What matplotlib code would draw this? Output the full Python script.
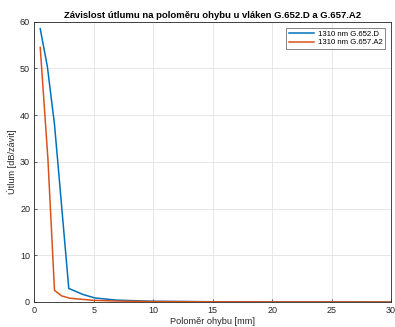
import matplotlib
matplotlib.use("Agg")
import matplotlib.pyplot as plt

plt.rcParams['font.family'] = ['Liberation Sans', 'DejaVu Sans']

x_652 = [0.5, 1.1, 1.7, 2.0, 2.9, 4.1, 5.1, 6.9, 10, 15, 20, 25, 30]
y_652 = [58.5, 50.4, 38.0, 29.3, 2.9, 1.6, 0.86, 0.4, 0.15, 0.05, 0.02, 0.01, 0.0]
x_657 = [0.5, 1.15, 1.7, 2.3, 3.0, 4.1, 5.0, 7.0, 10, 15, 20, 25, 30]
y_657 = [54.5, 30.5, 2.5, 1.3, 0.8, 0.55, 0.35, 0.2, 0.1, 0.04, 0.02, 0.01, 0.0]

labels = ['1310 nm G.652.D', '1310 nm G.657.A2']
title = 'Závislost útlumu na poloměru ohybu u vláken G.652.D a G.657.A2'
xlabel = 'Poloměr ohybu [mm]'
ylabel = 'Útlum [dB/závit]'
xticks = [0, 5, 10, 15, 20, 25, 30]
yticks = [0, 10, 20, 30, 40, 50, 60]

fig = plt.figure(figsize=(3.95, 3.27), dpi=100)
ax = fig.add_axes([0.0868, 0.0765, 0.903, 0.857])
ax.plot(x_652, y_652, color='#0072BD', lw=1.1, label=labels[0])
ax.plot(x_657, y_657, color='#D95319', lw=1.1, label=labels[1])
ax.set_xlim(0, 30)
ax.set_ylim(0, 60)
ax.set_xticks(xticks)
ax.set_yticks(yticks)
ax.grid(True, color='#e3e3e3', lw=0.6)
ax.set_axisbelow(True)
for s in ax.spines.values():
    s.set_color('#262626')
    s.set_linewidth(0.6)
ax.tick_params(direction='in', length=2.5, width=0.5, labelsize=6.5, colors='#262626', pad=3)
ax.set_title(title, fontsize=6.8, fontweight='bold', pad=3, color='black')
ax.set_xlabel(xlabel, fontsize=6.6, labelpad=1, color='#262626')
ax.set_ylabel(ylabel, fontsize=6.6, labelpad=2, color='#262626')
leg = ax.legend(loc='upper right', fontsize=5.6, frameon=True, fancybox=False,
                edgecolor='#262626', handlelength=3.2, borderaxespad=0.8,
                handletextpad=0.5, borderpad=0.3, labelspacing=0.15)
leg.get_frame().set_linewidth(0.5)
fig.savefig('out.png', dpi=100)
